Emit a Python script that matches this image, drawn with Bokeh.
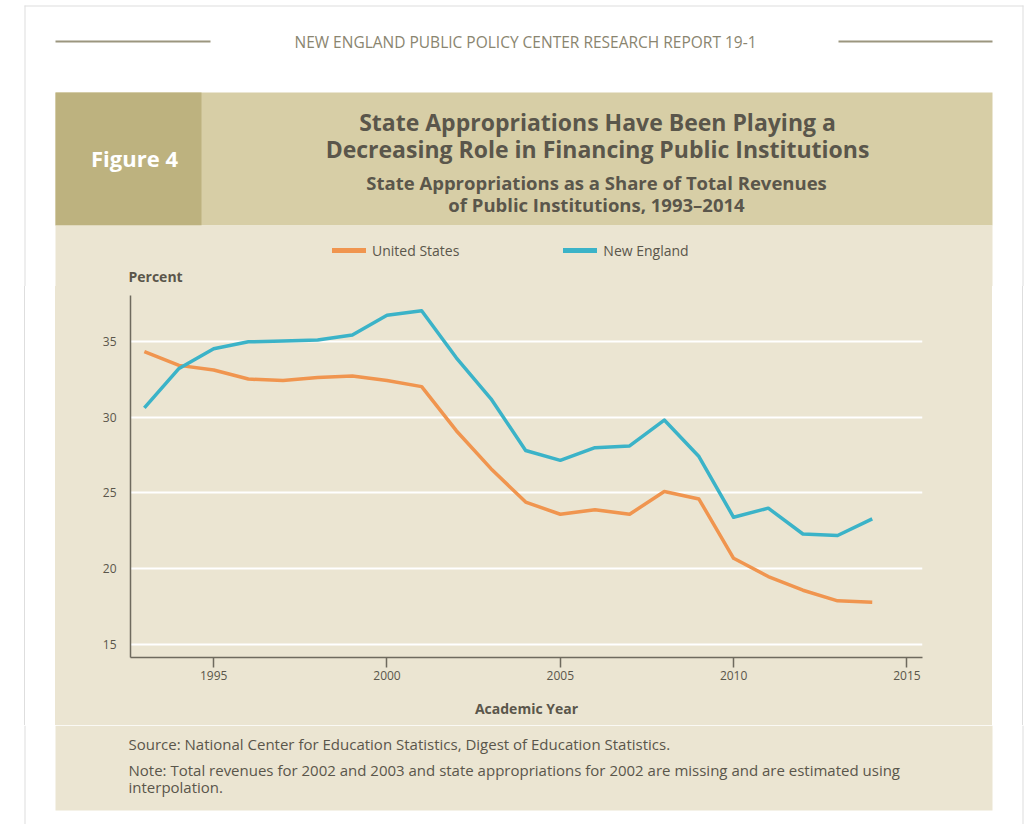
from bokeh.plotting import figure
from bokeh.models import Range1d, Label, Legend, FixedTicker
from bokeh.layouts import column, row
from bokeh.embed import file_html
from bokeh.resources import INLINE

# ---- data ----
years = list(range(1993, 2015))
united_states = [34.3, 33.4, 33.1, 32.5, 32.4, 32.6, 32.7, 32.4, 32.0, 29.1, 26.6,
                 24.4, 23.6, 23.9, 23.6, 25.1, 24.6, 20.7, 19.5, 18.6, 17.9, 17.8]
new_england = [30.6, 33.2, 34.5, 34.95, 35.0, 35.07, 35.4, 36.7, 37.0, 33.9, 31.2,
               27.8, 27.15, 27.98, 28.1, 29.8, 27.4, 23.4, 24.0, 22.3, 22.2, 23.3]
series_names = ["United States", "New England"]
x_ticks = [1995, 2000, 2005, 2010, 2015]
y_ticks = [15, 20, 25, 30, 35]

header_text = "NEW ENGLAND PUBLIC POLICY CENTER RESEARCH REPORT 19-1"
figure_label = "Figure 4"
title_lines = ["State Appropriations Have Been Playing a",
               "Decreasing Role in Financing Public Institutions"]
subtitle_lines = ["State Appropriations as a Share of Total Revenues",
                  "of Public Institutions, 1993\u20132014"]
source_text = "Source: National Center for Education Statistics, Digest of Education Statistics."
note_lines = ["Note: Total revenues for 2002 and 2003 and state appropriations for 2002 are missing and are estimated using",
              "interpolation."]

# ---- colours / fonts ----
ORANGE = "#f0954f"
BLUE = "#3bb3c8"
PANEL = "#ebe5d2"
BAND = "#d7cea6"
BLOCK = "#bdb27f"
RULE = "#9b967f"
EDGE = "#dedede"
TEXT = "#5a564b"
FONT = "Open Sans"

PAGE_W = 1024
HEAD_H = 286          # header figure: page y 0..286
CHART_Y0, CHART_Y1 = 286, 725
FOOT_H = 99           # footer: page y 725..824
PANEL_X0, PANEL_X1 = 55, 992
FL, FT, FR, FB = 130, 295, 922, 657   # chart frame edges (page px)

# page background behind the (transparent) chart canvas: white page, grey page
# edges, beige panel
PAGE_BG = ("linear-gradient(to right, white 0px, white 24px, {e} 24px, {e} 25px, "
           "white 25px, white {a}px, {p} {a}px, {p} {b}px, white {b}px, white 1022px, "
           "{e} 1022px, {e} 1023px, white 1023px)").format(e=EDGE, p=PANEL, a=PANEL_X0, b=PANEL_X1)


def deco_fig(w, x0, y0, y1):
    """A figure whose frame fills the canvas, in page-pixel coordinates."""
    f = figure(width=w, height=y1 - y0, output_backend="svg", toolbar_location=None,
               x_range=Range1d(x0, x0 + w), y_range=Range1d(y1, y0),
               min_border=0, min_border_left=0, min_border_right=0,
               min_border_top=0, min_border_bottom=0)
    f.axis.visible = False
    f.grid.visible = False
    f.outline_line_color = None
    f.background_fill_color = "white"
    f.border_fill_color = "white"
    return f


def rect(f, x0, y0, x1, y1, color):
    f.quad(left=[x0], right=[x1], top=[y0], bottom=[y1], fill_color=color, line_color=None)


def label(f, text, px, py, size, color=TEXT, align="left", style="normal"):
    f.add_layout(Label(x=px, y=py, text=text, text_font=FONT, text_font_size=size,
                       text_color=color, text_align=align, text_baseline="middle",
                       text_font_style=style))


# ---------- header ----------
head = deco_fig(PAGE_W, 0, 0, HEAD_H)
rect(head, 24, 5, 1023, 6, EDGE)
rect(head, 24, 5, 25, HEAD_H, EDGE)
rect(head, 1022, 5, 1023, HEAD_H, EDGE)
rect(head, 55, 40, 210, 42, RULE)
rect(head, 838, 40, 992, 42, RULE)
rect(head, PANEL_X0, 92, PANEL_X1, 225, BAND)
rect(head, PANEL_X0, 92, 201, 225, BLOCK)
rect(head, PANEL_X0, 225, PANEL_X1, HEAD_H, PANEL)

label(head, header_text, 525, 41, "15.5px", color="#8a856f", align="center")
label(head, figure_label, 134, 157, "22px", color="white", align="center", style="bold")
label(head, title_lines[0], 597, 121, "23px", align="center", style="bold")
label(head, title_lines[1], 597, 148, "23px", align="center", style="bold")
label(head, subtitle_lines[0], 596, 182, "18.5px", align="center", style="bold")
label(head, subtitle_lines[1], 596, 204, "18.5px", align="center", style="bold")
label(head, "Percent", 128, 276, "14px", style="bold")

# legend: renderers carry the series but lie outside this header's pixel ranges
lg_us = head.line(years, united_states, line_color=ORANGE, line_width=5, line_cap="round")
lg_ne = head.line(years, new_england, line_color=BLUE, line_width=5, line_cap="round")
legend = Legend(items=[(series_names[0], [lg_us]), (series_names[1], [lg_ne])],
                orientation="horizontal", location=(332, HEAD_H - 260),
                padding=0, margin=0, spacing=104, glyph_width=34, glyph_height=20,
                label_height=20, label_standoff=6, background_fill_alpha=0,
                border_line_alpha=0, label_text_font=FONT, label_text_font_size="14px",
                label_text_color=TEXT)
head.add_layout(legend, "center")

# ---------- chart (full page width, transparent canvas) ----------
CH = CHART_Y1 - CHART_Y0
p = figure(width=PAGE_W, height=CH, output_backend="svg", toolbar_location=None,
           x_range=Range1d(1992.6, 2015.45), y_range=Range1d(14.17, 38.0),
           min_border_left=FL, min_border_right=PAGE_W - FR,
           min_border_top=FT - CHART_Y0, min_border_bottom=CHART_Y1 - FB,
           styles={"background": PAGE_BG})
p.background_fill_color = None
p.border_fill_color = None
p.outline_line_color = None

p.line(years, united_states, line_color=ORANGE, line_width=3.5, line_join="round")
p.line(years, new_england, line_color=BLUE, line_width=3.5, line_join="round")

p.xgrid.visible = False
p.ygrid.grid_line_color = "white"
p.ygrid.grid_line_width = 2
p.ygrid.ticker = FixedTicker(ticks=y_ticks)

p.xaxis.ticker = FixedTicker(ticks=x_ticks)
p.yaxis.ticker = FixedTicker(ticks=y_ticks)
for ax in (p.xaxis[0], p.yaxis[0]):
    ax.axis_line_color = "#6e6a5e"
    ax.axis_line_width = 1.5
    ax.minor_tick_line_color = None
    ax.major_label_text_font = FONT
    ax.major_label_text_font_size = "12px"
    ax.major_label_text_color = TEXT
p.xaxis.major_tick_line_color = "#6e6a5e"
p.xaxis.major_tick_line_width = 1.5
p.xaxis.major_tick_out = 10
p.xaxis.major_tick_in = 0
p.xaxis.major_label_standoff = 3
p.xaxis.axis_label = "Academic Year"
p.xaxis.axis_label_text_font = FONT
p.xaxis.axis_label_text_font_size = "14px"
p.xaxis.axis_label_text_font_style = "bold"
p.xaxis.axis_label_text_color = TEXT
p.xaxis.axis_label_standoff = 16
p.yaxis.major_tick_line_color = None
p.yaxis.major_label_standoff = 8

# ---------- footer ----------
foot = deco_fig(PAGE_W, 0, CHART_Y1, CHART_Y1 + FOOT_H)
rect(foot, PANEL_X0, CHART_Y1, PANEL_X1, 810, PANEL)
rect(foot, 24, CHART_Y1, 25, CHART_Y1 + FOOT_H, EDGE)
rect(foot, 1022, CHART_Y1, 1023, CHART_Y1 + FOOT_H, EDGE)
label(foot, source_text, 128, 743, "15px")
label(foot, note_lines[0], 128, 769, "15px")
label(foot, note_lines[1], 128, 786, "15px")

# the chart sits in its own row so the column does not align its frame with the
# header / footer frames
layout = column(head, row(p, spacing=0), foot, spacing=0)
open("out.html", "w").write(file_html(layout, INLINE))
